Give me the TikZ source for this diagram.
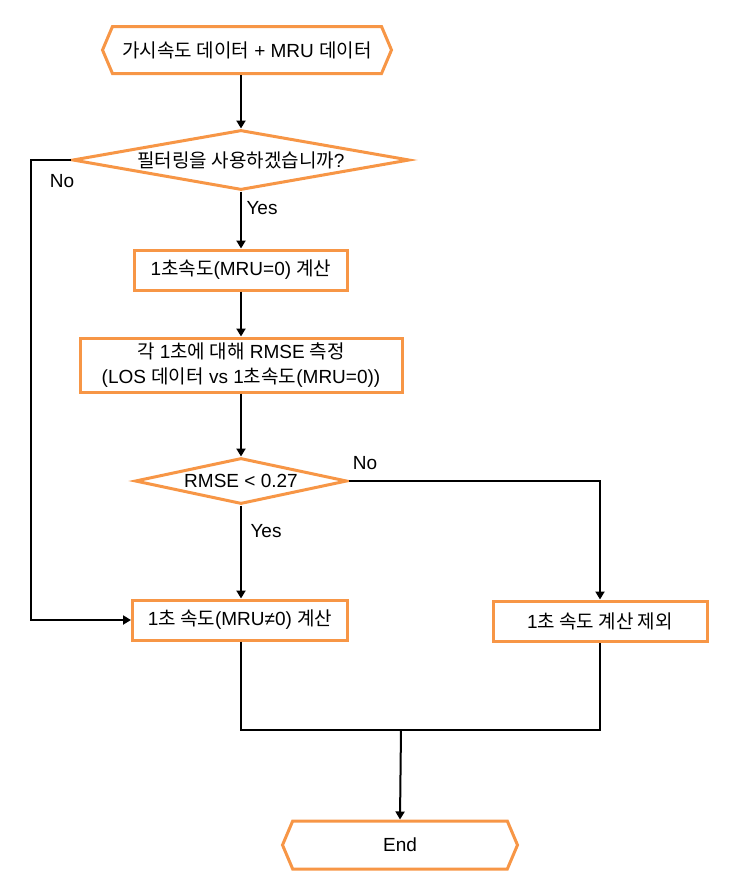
\documentclass[tikz,border=0pt]{standalone}
\usepackage{fontspec}
\setmainfont{Liberation Sans}
\newfontfamily\kr{Noto Sans CJK KR}
\usetikzlibrary{shapes.geometric,shapes.symbols,arrows.meta}
\definecolor{flow}{RGB}{247,150,70}

\begin{document}
\begin{tikzpicture}
  [x=1pt,y=-1pt,
   every node/.style={font=\fontsize{19}{25}\selectfont},
   box/.style={draw=flow,line width=3pt,fill=white,inner sep=0pt,align=center,minimum height=40pt},
   hexa/.style={box,shape=signal,signal to=west and east,signal pointer angle=134,minimum height=47pt},
   test/.style={box,shape=diamond,aspect=5},
   arrow/.style={line width=2pt,-{Triangle[length=8pt,width=9pt]}},
   line/.style={line width=2pt}]
  \useasboundingbox (0,0) rectangle (739,884);

  \node[hexa,minimum width=289pt] (src) at (247,50) {{\kr 가시속도 데이터} + MRU {\kr 데이터}};
  \node[test,minimum width=337pt,minimum height=60pt] (q1) at (241,160) {{\kr 필터링을 사용하겠습니까}?};
  \node[box,minimum width=213pt] (calc0) at (241,270) {1{\kr 초속도}(MRU=0) {\kr 계산}};
  \node[box,minimum width=322pt,minimum height=54pt] (rmse) at (241,365)
    {{\kr 각} 1{\kr 초에 대해} RMSE {\kr 측정}\\(LOS {\kr 데이터} vs 1{\kr 초속도}(MRU=0))};
  \node[test,minimum width=212pt,minimum height=46pt] (thr) at (241,481) {RMSE < 0.27};
  \node[box,minimum width=215pt] (calc1) at (240,620) {1{\kr 초 속도}(MRU≠0) {\kr 계산}};
  \node[box,minimum width=214pt] (skip) at (600,621) {1{\kr 초 속도 계산 제외}};
  \node[hexa,minimum width=235pt,minimum height=48pt] (end) at (400,845) {End};

  \node (no1) at (62,181) {No};
  \node (yes1) at (262,208) {Yes};
  \node (no2) at (365,463) {No};
  \node (yes2) at (266,531) {Yes};
  \coordinate (merge) at (401,730);

  \draw[arrow] (src.south -| q1.north) -- (q1.north);
  \draw[arrow] (q1.south) -- (calc0.north);
  \draw[arrow] (calc0.south) -- (rmse.north);
  \draw[arrow] (rmse.south) -- (thr.north);
  \draw[arrow] (thr.south) -- (thr.south |- calc1.north);
  \draw[arrow] (thr.east) -| (skip.north);
  \draw[arrow] (q1.west) -- ++(-40,0) |- (calc1.west);
  \draw[line] (calc1.south -| thr.south) |- (merge) -| (skip.south);
  \draw[arrow] (merge) -- (end.north);
\end{tikzpicture}
\end{document}
